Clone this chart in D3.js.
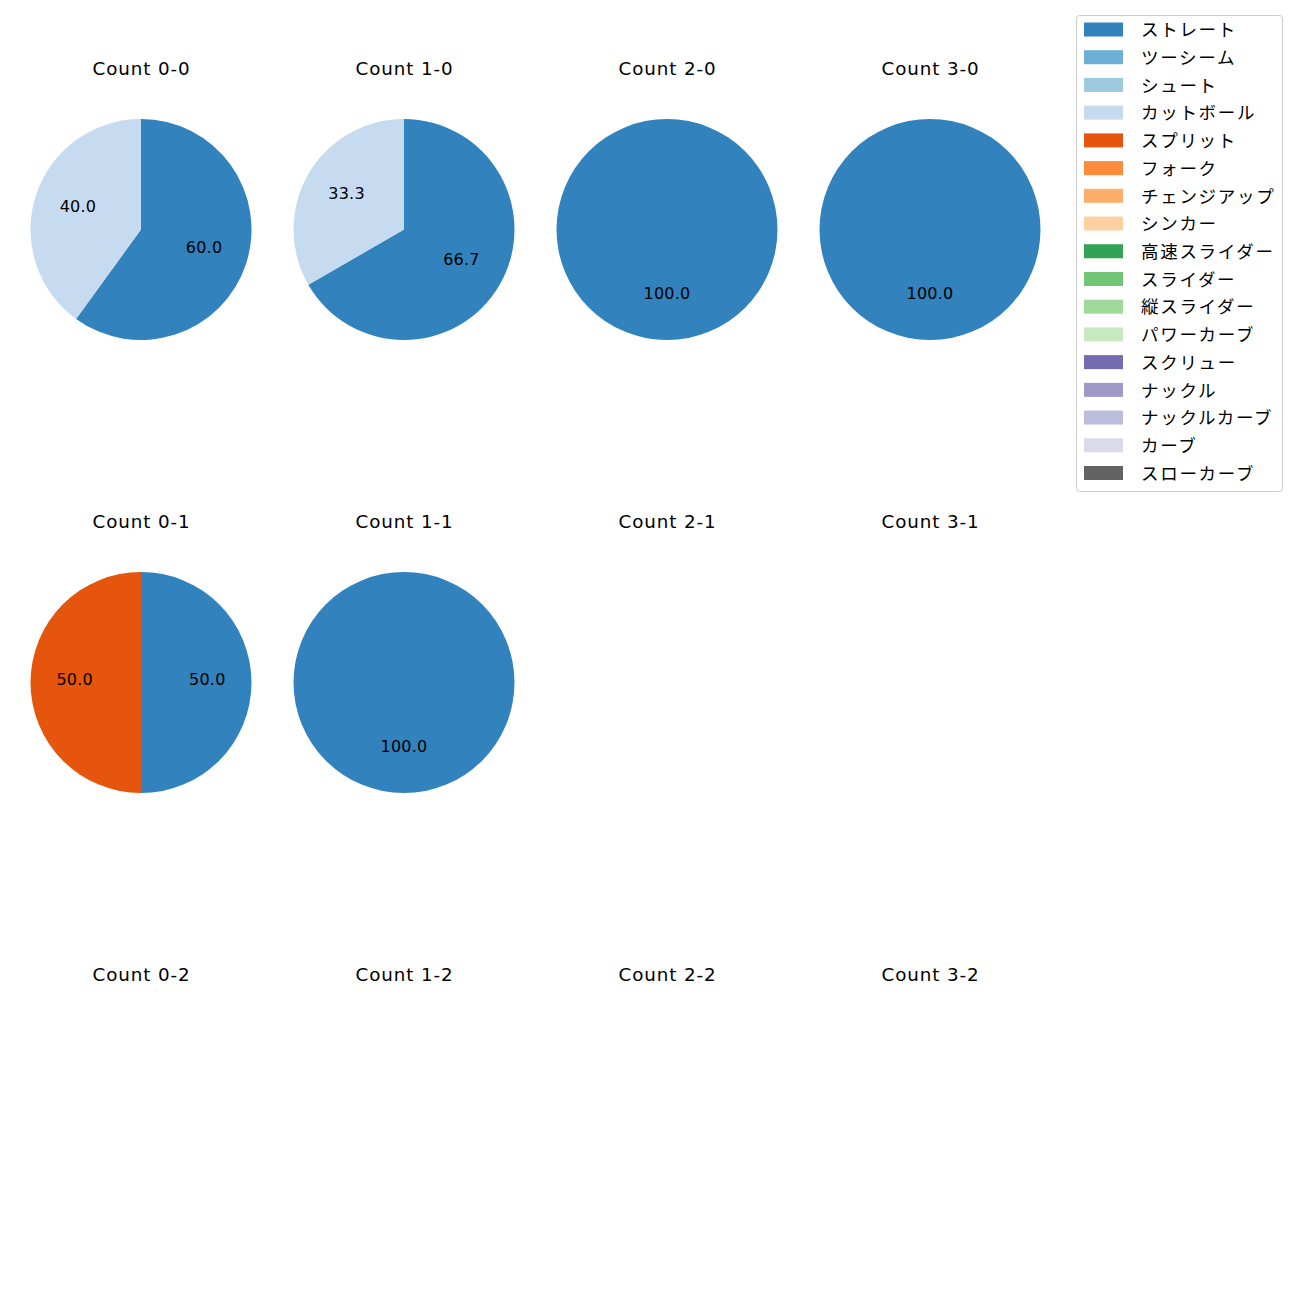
<!DOCTYPE html>
<html><head><meta charset="utf-8">
<script src="https://cdn.jsdelivr.net/npm/d3@7"></script>
<style>body{margin:0;background:#fff}</style>
</head><body><svg id="c" width="1300" height="1300"></svg>
<script>
const pitchTypes = ["ストレート","ツーシーム","シュート","カットボール","スプリット","フォーク","チェンジアップ","シンカー","高速スライダー","スライダー","縦スライダー","パワーカーブ","スクリュー","ナックル","ナックルカーブ","カーブ","スローカーブ"];
const pitchColors = ["#3182bd","#6baed6","#9ecae1","#c6dbef","#e6550d","#fd8d3c","#fdae6b","#fdd0a2","#31a354","#74c476","#a1d99b","#c7e9c0","#756bb1","#9e9ac8","#bcbddc","#dadaeb","#636363"];
const balls = [0,1,2,3];
const strikes = [0,1,2];
// pitch counts per ball-strike count
const panelData = [
  {b:0,s:0,v:{"ストレート":3,"カットボール":2}},
  {b:1,s:0,v:{"ストレート":2,"カットボール":1}},
  {b:2,s:0,v:{"ストレート":1}},
  {b:3,s:0,v:{"ストレート":1}},
  {b:0,s:1,v:{"ストレート":1,"スプリット":1}},
  {b:1,s:1,v:{"ストレート":1}},
  {b:2,s:1,v:{}},
  {b:3,s:1,v:{}},
  {b:0,s:2,v:{}},
  {b:1,s:2,v:{}},
  {b:2,s:2,v:{}},
  {b:3,s:2,v:{}}
];

const LATIN = '"DejaVu Sans","Noto Sans",sans-serif';
const CJK = '"Noto Sans CJK JP","Noto Sans",sans-serif';
const svg = d3.select("#c");
const color = d3.scaleOrdinal().domain(pitchTypes).range(pitchColors);
const xC = d3.scalePoint().domain(balls).range([141,930]);
const yC = d3.scalePoint().domain(strikes).range([229.5,1135.5]);
const R = 110.5;
const pie = d3.pie().sort(null).value(d=>d[1]);
const arc = d3.arc().innerRadius(0).outerRadius(R);

panelData.forEach(p=>{
  const cx = xC(p.b), cy = yC(p.s);
  const g = svg.append("g").attr("transform",`translate(${cx},${cy})`);
  g.append("text").attr("x",0.5).attr("y",-155).attr("text-anchor","middle")
    .attr("font-family",LATIN).attr("font-size",18.3).attr("letter-spacing",0.9)
    .text(`Count ${p.b}-${p.s}`);
  const entries = pitchTypes.filter(t=>p.v[t]).map(t=>[t,p.v[t]]);
  if(!entries.length) return;
  const total = d3.sum(entries,d=>d[1]);
  const arcs = pie(entries);
  g.selectAll("path").data(arcs).join("path").attr("d",arc).attr("fill",d=>color(d.data[0]));
  g.selectAll("text.l").data(arcs).join("text").attr("class","l")
    .attr("transform",d=>{const a=(d.startAngle+d.endAngle)/2;return `translate(${Math.sin(a)*R*0.6},${-Math.cos(a)*R*0.6+2.8})`;})
    .attr("text-anchor","middle").attr("font-family",LATIN).attr("font-size",16).attr("letter-spacing",0.2)
    .text(d=>(d.data[1]/total*100).toFixed(1));
});

// legend
const lg = svg.append("g");
lg.append("rect").attr("x",1076.5).attr("y",15.5).attr("width",206).attr("height",476).attr("rx",3)
  .attr("fill","#fff").attr("stroke","#cccccc").attr("stroke-width",1);
const ly = d3.scalePoint().domain(pitchTypes).range([29.5,473]);
pitchTypes.forEach(t=>{
  lg.append("rect").attr("x",1084).attr("y",ly(t)-7).attr("width",39).attr("height",14).attr("fill",color(t));
  lg.append("text").attr("x",1141).attr("y",ly(t)-0.8).attr("dominant-baseline","central")
    .attr("font-family",CJK).attr("font-size",17.5).attr("letter-spacing",1.7).text(t);
});
</script></body></html>
